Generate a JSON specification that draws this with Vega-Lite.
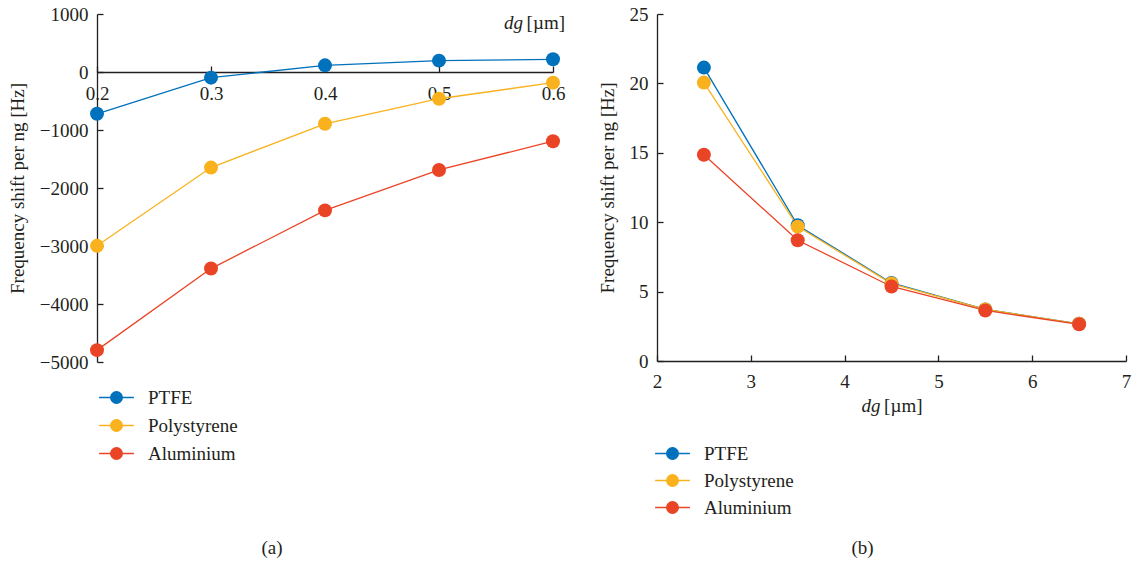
{
  "$schema": "https://vega.github.io/schema/vega-lite/v6.json",
  "background": "white",
  "padding": {"left": 8, "top": 5, "right": 5, "bottom": 5},
  "spacing": 33,
  "config": {
    "font": "Liberation Serif",
    "view": {"stroke": null},
    "title": {"font": "Liberation Serif", "fontSize": 19, "fontWeight": "normal", "color": "#231F20"}
  },
  "resolve": {"scale": {"color": "independent"}, "legend": {"color": "independent"}},
  "hconcat": [
    {
      "width": 456,
      "height": 348,
      "title": {"text": "(a)", "orient": "bottom", "offset": 75, "dx": -53, "anchor": "middle", "font": "Liberation Serif", "fontSize": 19, "fontWeight": "normal", "color": "#231F20"},
      "data": {"values": [
        {"material": "PTFE", "dg": 0.2, "shift": -720},
        {"material": "PTFE", "dg": 0.3, "shift": -98},
        {"material": "PTFE", "dg": 0.4, "shift": 115},
        {"material": "PTFE", "dg": 0.5, "shift": 196},
        {"material": "PTFE", "dg": 0.6, "shift": 219},
        {"material": "Polystyrene", "dg": 0.2, "shift": -2997},
        {"material": "Polystyrene", "dg": 0.3, "shift": -1648},
        {"material": "Polystyrene", "dg": 0.4, "shift": -893},
        {"material": "Polystyrene", "dg": 0.5, "shift": -461},
        {"material": "Polystyrene", "dg": 0.6, "shift": -184},
        {"material": "Aluminium", "dg": 0.2, "shift": -4795},
        {"material": "Aluminium", "dg": 0.3, "shift": -3389},
        {"material": "Aluminium", "dg": 0.4, "shift": -2386},
        {"material": "Aluminium", "dg": 0.5, "shift": -1689},
        {"material": "Aluminium", "dg": 0.6, "shift": -1193}
      ]},
      "layer": [
        {
          "encoding": {
            "x": {"field": "dg", "type": "quantitative",
              "scale": {"domain": [0.2, 0.6], "nice": false, "zero": false},
              "axis": {"values": [0.2, 0.3, 0.4, 0.5, 0.6], "format": ".1f", "title": null, "orient": "bottom", "offset": -290,
                "labelFont": "Liberation Serif", "labelFontSize": 19, "labelColor": "#231F20", "labelPadding": 18,
                "domainColor": "#231F20", "tickColor": "#231F20", "domainWidth": 1.3, "tickWidth": 1.3, "tickSize": -6, "grid": false, "labelFlush": false, "labelOverlap": false}},
            "y": {"field": "shift", "type": "quantitative",
              "scale": {"domain": [-5000, 1000], "nice": false},
              "axis": {"values": [-5000, -4000, -3000, -2000, -1000, 0, 1000], "format": "d", "title": "Frequency shift per ng [Hz]",
                "titleFont": "Liberation Serif", "titleFontSize": 19, "titleFontWeight": "normal", "titleColor": "#231F20", "titlePadding": 12,
                "labelFont": "Liberation Serif", "labelFontSize": 19, "labelColor": "#231F20", "labelPadding": 15,
                "domainColor": "#231F20", "tickColor": "#231F20", "domainWidth": 1.3, "tickWidth": 1.3, "tickSize": -6, "grid": false, "labelFlush": false, "labelOverlap": false}},
            "color": {"field": "material", "type": "nominal",
              "scale": {"domain": ["PTFE", "Polystyrene", "Aluminium"], "range": ["#0071BC", "#F9B21D", "#EA4426"]},
              "legend": {
                "orient": "none", "legendX": 10, "legendY": 374, "title": null,
                "labelFont": "Liberation Serif", "labelFontSize": 19, "labelColor": "#231F20",
                "symbolType": "M-2.9,0L2.9,0M-0.97,0A0.97,0.97,0,1,1,0.97,0A0.97,0.97,0,1,1,-0.97,0Z",
                "symbolSize": 144, "symbolStrokeWidth": 1.3, "labelOffset": 22, "rowPadding": 8,
                "encode": {"symbols": {"update": {
                  "fill": {"signal": "datum.value === 'PTFE' ? '#0071BC' : datum.value === 'Polystyrene' ? '#F9B21D' : '#EA4426'"},
                  "stroke": {"signal": "datum.value === 'PTFE' ? '#0071BC' : datum.value === 'Polystyrene' ? '#F9B21D' : '#EA4426'"},
                  "opacity": {"value": 1}
                }}}
              }}
          },
          "layer": [
            {"mark": {"type": "line", "strokeWidth": 1.3}},
            {"mark": {"type": "point", "filled": true, "size": 195, "opacity": 1}}
          ]
        },
        {
          "data": {"values": [{"label": "dg"}]},
          "mark": {"type": "text", "align": "right", "baseline": "middle", "fontStyle": "italic", "font": "Liberation Serif", "fontSize": 19, "fill": "#231F20", "opacity": 1, "dx": -30, "dy": 9},
          "encoding": {"x": {"datum": 0.6, "type": "quantitative"}, "y": {"datum": 1000, "type": "quantitative"}, "text": {"field": "label", "type": "nominal"}}
        },
        {
          "data": {"values": [{"label": "[µm]"}]},
          "mark": {"type": "text", "align": "right", "baseline": "middle", "font": "Liberation Serif", "fontSize": 19, "fill": "#231F20", "opacity": 1, "dx": 12, "dy": 9},
          "encoding": {"x": {"datum": 0.6, "type": "quantitative"}, "y": {"datum": 1000, "type": "quantitative"}, "text": {"field": "label", "type": "nominal"}}
        }
      ]
    },
    {
      "width": 469,
      "height": 347,
      "title": {"text": "(b)", "orient": "bottom", "offset": 21, "dx": -29, "anchor": "middle", "font": "Liberation Serif", "fontSize": 19, "fontWeight": "normal", "color": "#231F20"},
      "data": {"values": [
        {"material": "PTFE", "dg": 2.5, "shift": 21.14},
        {"material": "PTFE", "dg": 3.5, "shift": 9.78},
        {"material": "PTFE", "dg": 4.5, "shift": 5.62},
        {"material": "PTFE", "dg": 5.5, "shift": 3.72},
        {"material": "PTFE", "dg": 6.5, "shift": 2.68},
        {"material": "Polystyrene", "dg": 2.5, "shift": 20.06},
        {"material": "Polystyrene", "dg": 3.5, "shift": 9.68},
        {"material": "Polystyrene", "dg": 4.5, "shift": 5.58},
        {"material": "Polystyrene", "dg": 5.5, "shift": 3.72},
        {"material": "Polystyrene", "dg": 6.5, "shift": 2.68},
        {"material": "Aluminium", "dg": 2.5, "shift": 14.86},
        {"material": "Aluminium", "dg": 3.5, "shift": 8.7},
        {"material": "Aluminium", "dg": 4.5, "shift": 5.37},
        {"material": "Aluminium", "dg": 5.5, "shift": 3.64},
        {"material": "Aluminium", "dg": 6.5, "shift": 2.64}
      ]},
      "layer": [
        {
          "encoding": {
            "x": {"field": "dg", "type": "quantitative",
              "scale": {"domain": [2, 7], "nice": false, "zero": false},
              "axis": {"values": [2, 3, 4, 5, 6, 7], "format": "d", "title": null,
                "labelFont": "Liberation Serif", "labelFontSize": 19, "labelColor": "#231F20", "labelPadding": 17,
                "domainColor": "#231F20", "tickColor": "#231F20", "domainWidth": 1.3, "tickWidth": 1.3, "tickSize": -6, "grid": false, "labelFlush": false, "labelOverlap": false}},
            "y": {"field": "shift", "type": "quantitative",
              "scale": {"domain": [0, 25], "nice": false},
              "axis": {"values": [0, 5, 10, 15, 20, 25], "format": "d", "title": "Frequency shift per ng [Hz]",
                "titleFont": "Liberation Serif", "titleFontSize": 19, "titleFontWeight": "normal", "titleColor": "#231F20", "titlePadding": 12,
                "labelFont": "Liberation Serif", "labelFontSize": 19, "labelColor": "#231F20", "labelPadding": 15,
                "domainColor": "#231F20", "tickColor": "#231F20", "domainWidth": 1.3, "tickWidth": 1.3, "tickSize": -6, "grid": false, "labelFlush": false, "labelOverlap": false}},
            "color": {"field": "material", "type": "nominal",
              "scale": {"domain": ["PTFE", "Polystyrene", "Aluminium"], "range": ["#0071BC", "#F9B21D", "#EA4426"]},
              "legend": {
                "orient": "none", "legendX": 6, "legendY": 430, "title": null,
                "labelFont": "Liberation Serif", "labelFontSize": 19, "labelColor": "#231F20",
                "symbolType": "M-2.9,0L2.9,0M-0.97,0A0.97,0.97,0,1,1,0.97,0A0.97,0.97,0,1,1,-0.97,0Z",
                "symbolSize": 144, "symbolStrokeWidth": 1.3, "labelOffset": 22, "rowPadding": 7,
                "encode": {"symbols": {"update": {
                  "fill": {"signal": "datum.value === 'PTFE' ? '#0071BC' : datum.value === 'Polystyrene' ? '#F9B21D' : '#EA4426'"},
                  "stroke": {"signal": "datum.value === 'PTFE' ? '#0071BC' : datum.value === 'Polystyrene' ? '#F9B21D' : '#EA4426'"},
                  "opacity": {"value": 1}
                }}}
              }}
          },
          "layer": [
            {"mark": {"type": "line", "strokeWidth": 1.3}},
            {"mark": {"type": "point", "filled": true, "size": 195, "opacity": 1}}
          ]
        },
        {
          "data": {"values": [{"label": "dg"}]},
          "mark": {"type": "text", "align": "left", "baseline": "middle", "fontStyle": "italic", "font": "Liberation Serif", "fontSize": 19, "fill": "#231F20", "opacity": 1, "dx": -30, "dy": 45},
          "encoding": {"x": {"datum": 4.5, "type": "quantitative"}, "y": {"datum": 0, "type": "quantitative"}, "text": {"field": "label", "type": "nominal"}}
        },
        {
          "data": {"values": [{"label": "[µm]"}]},
          "mark": {"type": "text", "align": "right", "baseline": "middle", "font": "Liberation Serif", "fontSize": 19, "fill": "#231F20", "opacity": 1, "dx": 31, "dy": 45},
          "encoding": {"x": {"datum": 4.5, "type": "quantitative"}, "y": {"datum": 0, "type": "quantitative"}, "text": {"field": "label", "type": "nominal"}}
        }
      ]
    }
  ]
}
